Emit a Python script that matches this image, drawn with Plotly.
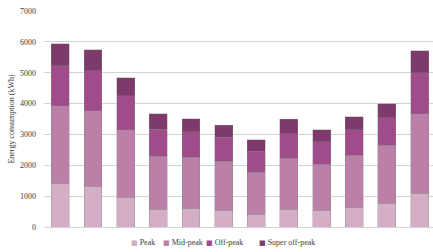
import plotly.graph_objects as go

months = ["Jan", "Feb", "Mar", "Apr", "May", "Jun", "Jul", "Aug", "Sep", "Oct", "Nov", "Dec"]
peak = [1420, 1320, 965, 575, 610, 545, 415, 575, 545, 640, 770, 1095]
mid_peak = [2505, 2440, 2180, 1725, 1655, 1590, 1365, 1660, 1495, 1690, 1885, 2570]
off_peak = [1300, 1300, 1105, 875, 815, 780, 680, 780, 715, 815, 880, 1330]
super_off_peak = [715, 685, 585, 490, 430, 390, 360, 475, 390, 430, 455, 715]
y_ticks = [0, 1000, 2000, 3000, 4000, 5000, 6000, 7000]

series_names = ["Peak", "Mid-peak", "Off-peak", "Super off-peak"]
series_vals = [peak, mid_peak, off_peak, super_off_peak]
colors = ["#d3aec5", "#bb80a8", "#a04c8b", "#7e3a6a"]
legend_x = [131, 163, 206, 259]  # left edge of each legend square, px

font = dict(family="Liberation Serif, Times New Roman, serif", size=8, color="#404040")

fig = go.Figure()
for name, vals, col in zip(series_names, series_vals, colors):
    fig.add_trace(go.Bar(
        x=months, y=vals, name=name, showlegend=False,
        marker=dict(color=col, line=dict(color="rgba(130,130,130,0.6)", width=0.6)),
    ))

legend_layouts = {}
for i, (name, col, lx) in enumerate(zip(series_names, colors, legend_x)):
    key = "legend" if i == 0 else f"legend{i + 1}"
    fig.add_trace(go.Scatter(
        x=[None], y=[None], mode="markers",
        name=f'<span style="color:{col};font-family:DejaVu Sans;font-size:7px">■</span> {name}',
        marker=dict(color="rgba(0,0,0,0)", opacity=0, size=0,
                    line=dict(width=0, color="rgba(0,0,0,0)")),
        showlegend=True, legend=key,
    ))
    legend_layouts[key] = dict(
        orientation="h", xref="container", yref="container",
        x=(lx - 40) / 433, xanchor="left", y=1 - 242 / 252, yanchor="middle",
        font=font, bgcolor="rgba(0,0,0,0)", borderwidth=0,
    )

fig.update_layout(
    barmode="stack",
    bargap=0.45,
    width=433, height=252,
    margin=dict(l=44, r=0, t=11, b=25, autoexpand=False),
    paper_bgcolor="white", plot_bgcolor="white",
    font=font,
    showlegend=True,
    xaxis=dict(showticklabels=False, showgrid=False, zeroline=False, automargin=False,
               range=[-0.5, 11.41], showline=False, ticks=""),
    yaxis=dict(range=[0, 7000], tickvals=y_ticks, ticktext=[str(v) for v in y_ticks],
               tickfont=font,
               showgrid=True, gridcolor="#d4d4d4", gridwidth=1, automargin=False,
               zeroline=True, zerolinecolor="#d4d4d4", zerolinewidth=1,
               ticks="", ticklabelstandoff=7,
               title=dict(text="Energy consumption (kWh)", font=font, standoff=4)),
    **legend_layouts,
)
fig.write_html("out.html", config={"displayModeBar": False},
               post_script="document.body.style.margin='0';document.body.style.overflow='hidden';")
